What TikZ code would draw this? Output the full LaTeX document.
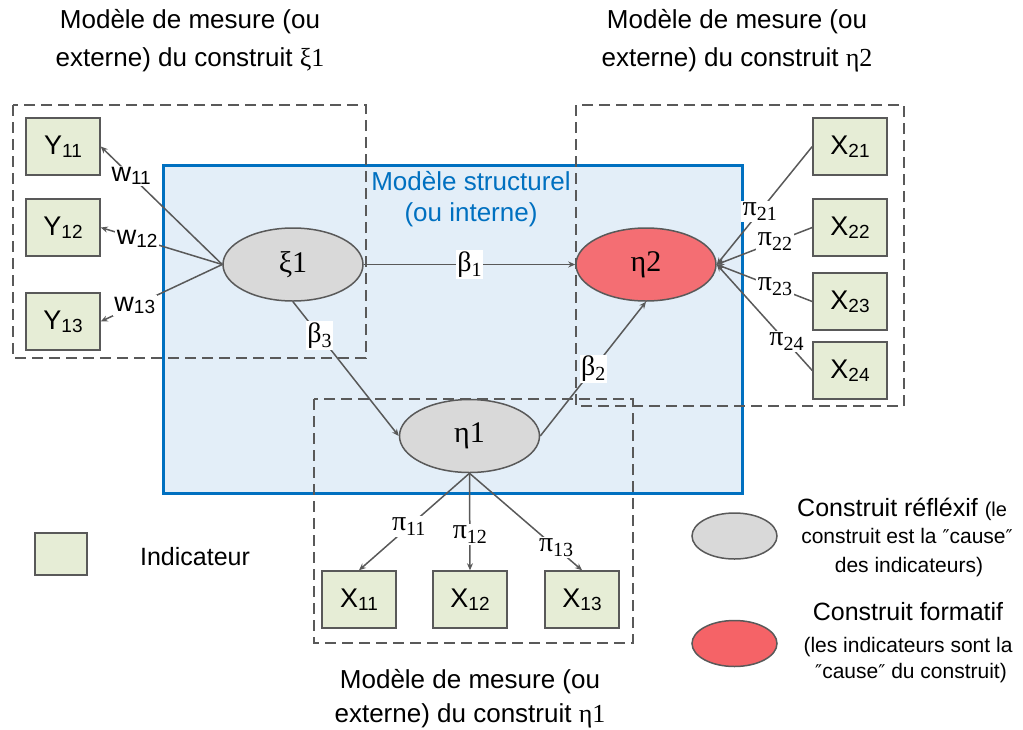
\documentclass[tikz,border=0pt]{standalone}
\usepackage{fontspec}
\setmainfont{Liberation Sans}
\newfontfamily\grk{Liberation Serif}
\newfontfamily\dvs{DejaVu Sans}
\usetikzlibrary{arrows.meta,shapes.geometric}

\definecolor{boxfill}{HTML}{E6EDD6}
\definecolor{edge}{HTML}{595959}
\definecolor{bluefill}{HTML}{E3EEF8}
\definecolor{blueline}{HTML}{0070C0}
\definecolor{grayfill}{HTML}{D9D9D9}
\definecolor{redfill}{HTML}{F46E73}

\newcommand{\sbs}[1]{\raisebox{-0.1em}{\fontsize{19}{19}\selectfont #1}}
\newcommand{\gsb}[2]{{\grk #1\raisebox{-0.18em}{\fontsize{20}{20}\selectfont #2}}}
\newcommand{\dq}{{\dvs\fontsize{19}{19}\selectfont ″}}

\begin{document}
\begin{tikzpicture}[x=1pt,y=-1pt,
  every node/.style={font=\fontsize{25}{30}\selectfont},
  ind/.style={draw=edge,line width=1.5pt,fill=boxfill,minimum width=74pt,minimum height=57pt,inner sep=0pt,font=\fontsize{27}{30}\selectfont},
  cons/.style={ellipse,draw=edge,line width=1.5pt,minimum width=140pt,minimum height=73pt,inner sep=0pt,font=\grk\fontsize{30}{32}\selectfont},
  refl/.style={cons,fill=grayfill},
  form/.style={cons,fill=redfill},
  zone/.style={draw=edge,line width=1.5pt,dash pattern=on 11pt off 6pt},
  conn/.style={draw=edge,line width=1.5pt,-{Stealth[length=7pt,width=6pt]}},
  lab/.style={fill=white,inner sep=1.5pt},
  glab/.style={lab,font=\grk\fontsize{28}{30}\selectfont},
  ttl/.style={align=center,font=\fontsize{26}{38}\selectfont},
  small/.style={font=\fontsize{21}{25}\selectfont}
]
\useasboundingbox (0,0) rectangle (1023,729);

% structural model area
\path[fill=bluefill,draw=blueline,line width=3pt] (163,165) rectangle (742,493);
\node[align=center,text=blueline,font=\fontsize{26}{31}\selectfont] (struct) at (471,199) {Modèle structurel\\(ou interne)};

% measurement model zones
\draw[zone] (13,105) rectangle (366,358);
\draw[zone] (576,105) rectangle (904,406);
\draw[zone] (314,399) rectangle (633,643);

% titles
\node[ttl] (t1) at (190,41) {Modèle de mesure (ou\\externe) du construit {\grk ξ1}};
\node[ttl] (t2) at (737,41) {Modèle de mesure (ou\\externe) du construit {\grk η2}};
\node[ttl,font=\fontsize{26}{34}\selectfont] (t3) at (470,699) {Modèle de mesure (ou\\externe) du construit {\grk η1}};

% constructs
\node[refl] (xi1) at (293,264.5) {ξ1};
\node[form] (eta2) at (646,264.5) {η2};
\node[refl] (eta1) at (469.5,436) {η1};

% indicators
\node[ind] (y11) at (63,146.5) {Y\sbs{11}};
\node[ind] (y12) at (63,227.5) {Y\sbs{12}};
\node[ind] (y13) at (63,321.5) {Y\sbs{13}};
\node[ind] (x21) at (850,146.5) {X\sbs{21}};
\node[ind] (x22) at (850,227.5) {X\sbs{22}};
\node[ind] (x23) at (850,301.5) {X\sbs{23}};
\node[ind] (x24) at (850,370.5) {X\sbs{24}};
\node[ind] (x11) at (359,599.5) {X\sbs{11}};
\node[ind] (x12) at (470,599.5) {X\sbs{12}};
\node[ind] (x13) at (582,599.5) {X\sbs{13}};

% reflective loadings
\draw[conn] (xi1.west) -- node[lab,pos=0.75,font=\fontsize{27}{30}\selectfont] {w\sbs{11}} (y11.east);
\draw[conn] (xi1.west) -- node[lab,pos=0.7,font=\fontsize{27}{30}\selectfont] {w\sbs{12}} (y12.east);
\draw[conn] (xi1.west) -- node[lab,pos=0.72,font=\fontsize{27}{30}\selectfont] {w\sbs{13}} (y13.east);

\draw[conn] (eta1.south) -- node[glab,pos=0.55] {\gsb{π}{11}} (x11.north);
\draw[conn] (eta1.south) -- node[glab,pos=0.63] {\gsb{π}{12}} (x12.north);
\draw[conn] (eta1.south) -- node[glab,pos=0.77] {\gsb{π}{13}} (x13.north);

% formative weights
\draw[conn] (x21.west) -- node[glab,pos=0.55] {\gsb{π}{21}} (eta2.east);
\draw[conn] (x22.west) -- node[glab,pos=0.39] {\gsb{π}{22}} (eta2.east);
\draw[conn] (x23.west) -- node[glab,pos=0.39] {\gsb{π}{23}} (eta2.east);
\draw[conn] (x24.west) -- node[glab,pos=0.27] {\gsb{π}{24}} (eta2.east);

% structural paths
\draw[conn] (xi1.east) -- node[glab,pos=0.5] {\gsb{β}{1}} (eta2.west);
\draw[conn] (xi1.south) -- node[glab,pos=0.25] {\gsb{β}{3}} (eta1.west);
\draw[conn] (eta1.east) -- node[glab,pos=0.5] {\gsb{β}{2}} (eta2.south);

% legend
\node[ind,minimum width=52pt,minimum height=42pt] (legind) at (61,554) {};
\node (legindt) at (195,557) {Indicateur};
\node[refl,minimum width=85pt,minimum height=46pt] (legrefl) at (734.5,536) {};
\node[form,fill=redfill!90!red,minimum width=85pt,minimum height=46pt] (legform) at (734.5,643.5) {};
\node[anchor=base west,inner sep=0pt] (lr1) at (797,516) {Construit réfléxif {\fontsize{20}{20}\selectfont (le}};
\node[small,anchor=base,inner sep=0pt] (lr2) at (907,543) {construit est la \dq cause\dq};
\node[small,anchor=base,inner sep=0pt] (lr3) at (909,572) {des indicateurs)};
\node[anchor=base,inner sep=0pt] (lf1) at (908,620) {Construit formatif};
\node[small,anchor=base,inner sep=0pt] (lf2) at (908,652) {(les indicateurs sont la};
\node[small,anchor=base,inner sep=0pt] (lf3) at (911,678) {\dq cause\dq{} du construit)};
\end{tikzpicture}
\end{document}
